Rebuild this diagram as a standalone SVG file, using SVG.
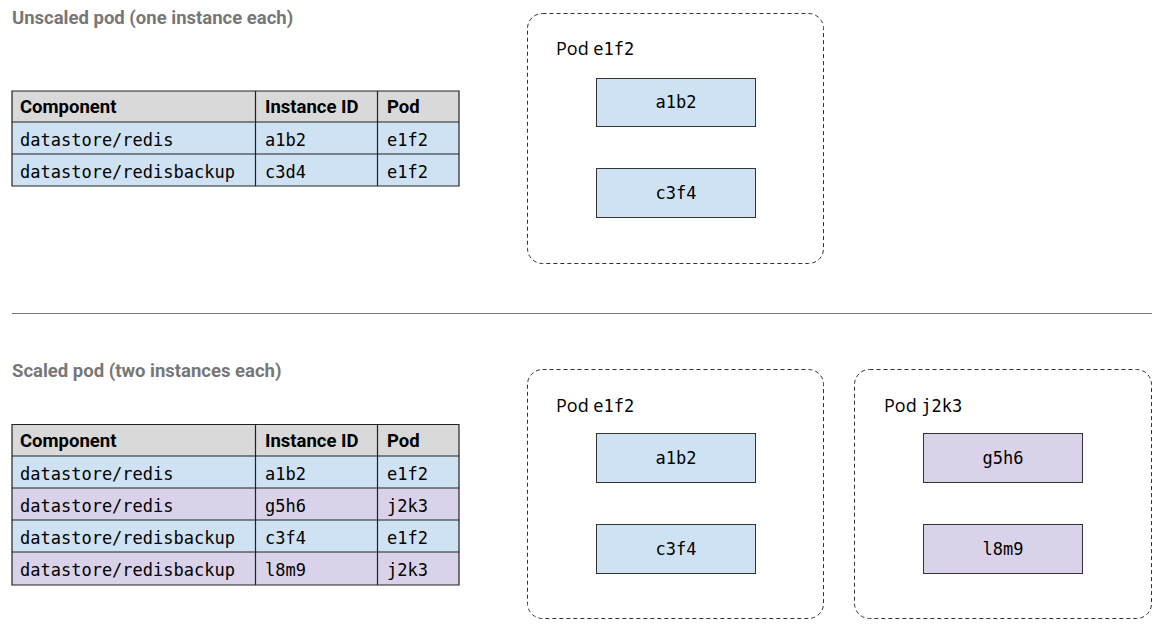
<svg xmlns="http://www.w3.org/2000/svg" width="1166" height="635" viewBox="0 0 1166 635">
<style>
.title{font-family:Roboto,"Liberation Sans",sans-serif;font-weight:bold;font-size:18.5px;fill:#777777}
.th{font-family:Roboto,"Liberation Sans",sans-serif;font-weight:bold;font-size:18.5px;fill:#000}
.mono{font-family:"DejaVu Sans Mono","Liberation Mono",monospace;font-size:17px;fill:#000}
.lbl{font-family:"Open Sans","Noto Sans",sans-serif;font-size:18px;fill:#000}
.lbl .mono{font-size:17px}
.hdr{fill:#d9d9d9}
.blue{fill:#cfe2f3}
.purple{fill:#d9d2e9}
.grid{stroke:#222;stroke-width:1.2;fill:none}
.pod{fill:none;stroke:#333;stroke-width:1;stroke-dasharray:4 3}
.inst{stroke:#333;stroke-width:1}
.ctr{text-anchor:middle}
</style>

<g id="title-unscaled"><text class="title" x="12" y="24">Unscaled pod (one instance each)</text></g>

<g id="table-unscaled">
<rect class="hdr" x="12" y="91" width="447" height="31"/>
<rect class="blue" x="12" y="122" width="447" height="32"/>
<rect class="blue" x="12" y="154" width="447" height="32"/>
<path class="grid" d="M12 91H459V186H12Z M12 122H459 M12 154H459 M255.5 91V186 M377.5 91V186"/>
<text class="th" x="20" y="113">Component</text>
<text class="th" x="265" y="113">Instance ID</text>
<text class="th" x="387" y="113">Pod</text>
<text class="mono" x="20" y="146">datastore/redis</text>
<text class="mono" x="265" y="146">a1b2</text>
<text class="mono" x="387" y="146">e1f2</text>
<text class="mono" x="20" y="178">datastore/redisbackup</text>
<text class="mono" x="265" y="178">c3d4</text>
<text class="mono" x="387" y="178">e1f2</text>
</g>

<g id="pod-e1f2-unscaled">
<rect class="pod" x="527.5" y="13.5" width="296" height="250" rx="15"/>
<text class="lbl" x="556" y="55">Pod <tspan class="mono">e1f2</tspan></text>
<rect class="blue inst" x="596.5" y="78.5" width="159" height="48"/>
<text class="mono ctr" x="676" y="108">a1b2</text>
<rect class="blue inst" x="596.5" y="168.5" width="159" height="49"/>
<text class="mono ctr" x="676" y="199">c3f4</text>
</g>

<g id="separator"><line x1="12" y1="313.5" x2="1152" y2="313.5" stroke="#777" stroke-width="1.2"/></g>

<g id="title-scaled"><text class="title" x="12" y="377">Scaled pod (two instances each)</text></g>

<g id="table-scaled">
<rect class="hdr" x="12" y="424" width="447" height="32"/>
<rect class="blue" x="12" y="456" width="447" height="32"/>
<rect class="purple" x="12" y="488" width="447" height="32"/>
<rect class="blue" x="12" y="520" width="447" height="32"/>
<rect class="purple" x="12" y="552" width="447" height="33"/>
<path class="grid" d="M12 424.5H459V585H12Z M12 456H459 M12 488H459 M12 520H459 M12 552H459 M255.5 424V585 M377.5 424V585"/>
<text class="th" x="20" y="447">Component</text>
<text class="th" x="265" y="447">Instance ID</text>
<text class="th" x="387" y="447">Pod</text>
<text class="mono" x="20" y="480">datastore/redis</text>
<text class="mono" x="265" y="480">a1b2</text>
<text class="mono" x="387" y="480">e1f2</text>
<text class="mono" x="20" y="512">datastore/redis</text>
<text class="mono" x="265" y="512">g5h6</text>
<text class="mono" x="387" y="512">j2k3</text>
<text class="mono" x="20" y="544">datastore/redisbackup</text>
<text class="mono" x="265" y="544">c3f4</text>
<text class="mono" x="387" y="544">e1f2</text>
<text class="mono" x="20" y="576">datastore/redisbackup</text>
<text class="mono" x="265" y="576">l8m9</text>
<text class="mono" x="387" y="576">j2k3</text>
</g>

<g id="pod-e1f2-scaled">
<rect class="pod" x="527.5" y="369.5" width="296" height="249" rx="15"/>
<text class="lbl" x="556" y="412">Pod <tspan class="mono">e1f2</tspan></text>
<rect class="blue inst" x="596.5" y="433.5" width="159" height="49"/>
<text class="mono ctr" x="676" y="464">a1b2</text>
<rect class="blue inst" x="596.5" y="524.5" width="159" height="49"/>
<text class="mono ctr" x="676" y="555">c3f4</text>
</g>

<g id="pod-j2k3">
<rect class="pod" x="854.5" y="369.5" width="297" height="249" rx="15"/>
<text class="lbl" x="884" y="412">Pod <tspan class="mono">j2k3</tspan></text>
<rect class="purple inst" x="923.5" y="433.5" width="159" height="49"/>
<text class="mono ctr" x="1003" y="464">g5h6</text>
<rect class="purple inst" x="923.5" y="524.5" width="159" height="49"/>
<text class="mono ctr" x="1003" y="555">l8m9</text>
</g>

<g id="connectors"></g>
</svg>
